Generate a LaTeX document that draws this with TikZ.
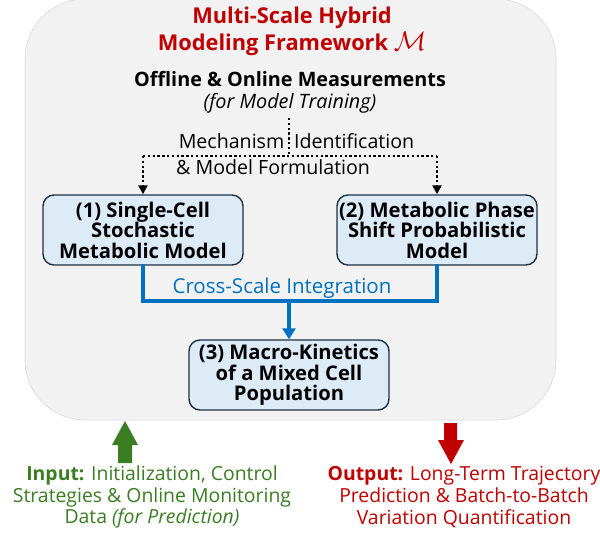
\documentclass[tikz,border=0pt]{standalone}
\usepackage{fontspec}
\usepackage{graphicx}
\setmainfont{Open Sans}
\usetikzlibrary{arrows.meta}
\definecolor{titlered}{HTML}{C00000}
\definecolor{ingreen}{HTML}{3A7D22}
\definecolor{flowblue}{HTML}{0070C0}
\definecolor{panelgray}{HTML}{F2F2F2}
\definecolor{panelline}{HTML}{D9D9D9}
\definecolor{boxfill}{HTML}{DDEBF7}
\definecolor{boxline}{HTML}{1C3142}
\tikzset{
  modelbox/.style={draw=boxline, line width=1.4pt, fill=boxfill, rounded corners=11pt,
    minimum width=200pt, minimum height=70pt, align=center, inner sep=0pt,
    font=\fontsize{20.2}{20.5}\selectfont\bfseries},
  dotline/.style={line width=2.4pt, dash pattern=on 2.4pt off 2.4pt},
  dotarrow/.style={dotline, -{Triangle[length=9pt,width=9pt]}},
  blueline/.style={draw=flowblue, line width=3.2pt},
  txt/.style={inner sep=0pt, align=center},
  mechtxt/.style={inner sep=0pt, font=\fontsize{19.6}{25}\selectfont}
}
\begin{document}
\begin{tikzpicture}[x=1pt,y=-1pt]
\useasboundingbox (0,0) rectangle (600,533);
% panel
\draw[fill=panelgray, draw=panelline, line width=0.6pt, rounded corners=60pt]
  (25,-1) rectangle (556,420);
% title
\node[txt, text=titlered, font=\fontsize{21.8}{27}\selectfont\bfseries] (title) at (292,31)
  {Multi-Scale Hybrid\\Modeling Framework \raisebox{-0.5pt}{\scalebox{1.3}{$\mathcal{M}$}}};
\node[txt, font=\fontsize{19.8}{22}\selectfont] (meas) at (290,92)
  {\textbf{Offline \& Online Measurements}\\\textit{(for Model Training)}};
\coordinate (dtop) at (289,118);
\coordinate (djoin) at (289,156);
\coordinate (dleft) at (143,156);
\coordinate (dright) at (437,156);
\node[mechtxt, anchor=base east] (mech1) at (284.5,148) {Mechanism};
\node[mechtxt, anchor=base west] (mech2) at (294,148) {Identification};
\node[mechtxt, anchor=base west] (mech3) at (176,174) {\& Model Formulation};
% boxes
\node[modelbox] (b1) at (143,230) {(1) Single-Cell\\Stochastic\\Metabolic Model};
\node[modelbox] (b2) at (437,230) {(2) Metabolic Phase\\Shift Probabilistic\\Model};
\node[modelbox] (b3) at (289,375) {(3) Macro-Kinetics\\of a Mixed Cell\\Population};
% dotted connectors
\draw[dotline] (dtop) -- (djoin);
\draw[dotline] (dleft) -- (dright);
\draw[dotarrow] (dleft) -- (b1.north);
\draw[dotarrow] (dright) -- (b2.north);
% blue integration
\coordinate (bl) at (b1.south |- 0,301);
\coordinate (br) at (b2.south |- 0,301);
\coordinate (bm) at (b3.north |- 0,301);
\draw[blueline, line cap=rect] (b1.south) -- (bl) -- (br) -- (b2.south);
\draw[blueline, -{Triangle[length=11pt,width=13pt]}] (bm) -- (b3.north);
\node[txt, text=flowblue, font=\fontsize{20.5}{20}\selectfont] (cross) at (282,288) {Cross-Scale Integration};
% input arrow
\fill[ingreen] (125,421) -- (138,445) -- (132,445) -- (132,463) -- (118,463) -- (118,445) -- (112,445) -- cycle;
\node[txt, text=ingreen, font=\fontsize{19.4}{21.8}\selectfont] (inp) at (152,497)
  {\textbf{Input:} Initialization, Control\\Strategies \& Online Monitoring\\Data \textit{(for Prediction)}};
% output arrow
\fill[titlered] (444,423) -- (457,423) -- (457,440) -- (464,440) -- (451,464) -- (438,440) -- (444,440) -- cycle;
\node[txt, text=titlered, font=\fontsize{19.4}{21.8}\selectfont] (outp) at (464,497)
  {\textbf{Output:} Long-Term Trajectory\\Prediction \& Batch-to-Batch\\Variation Quantification};
\end{tikzpicture}
\end{document}
